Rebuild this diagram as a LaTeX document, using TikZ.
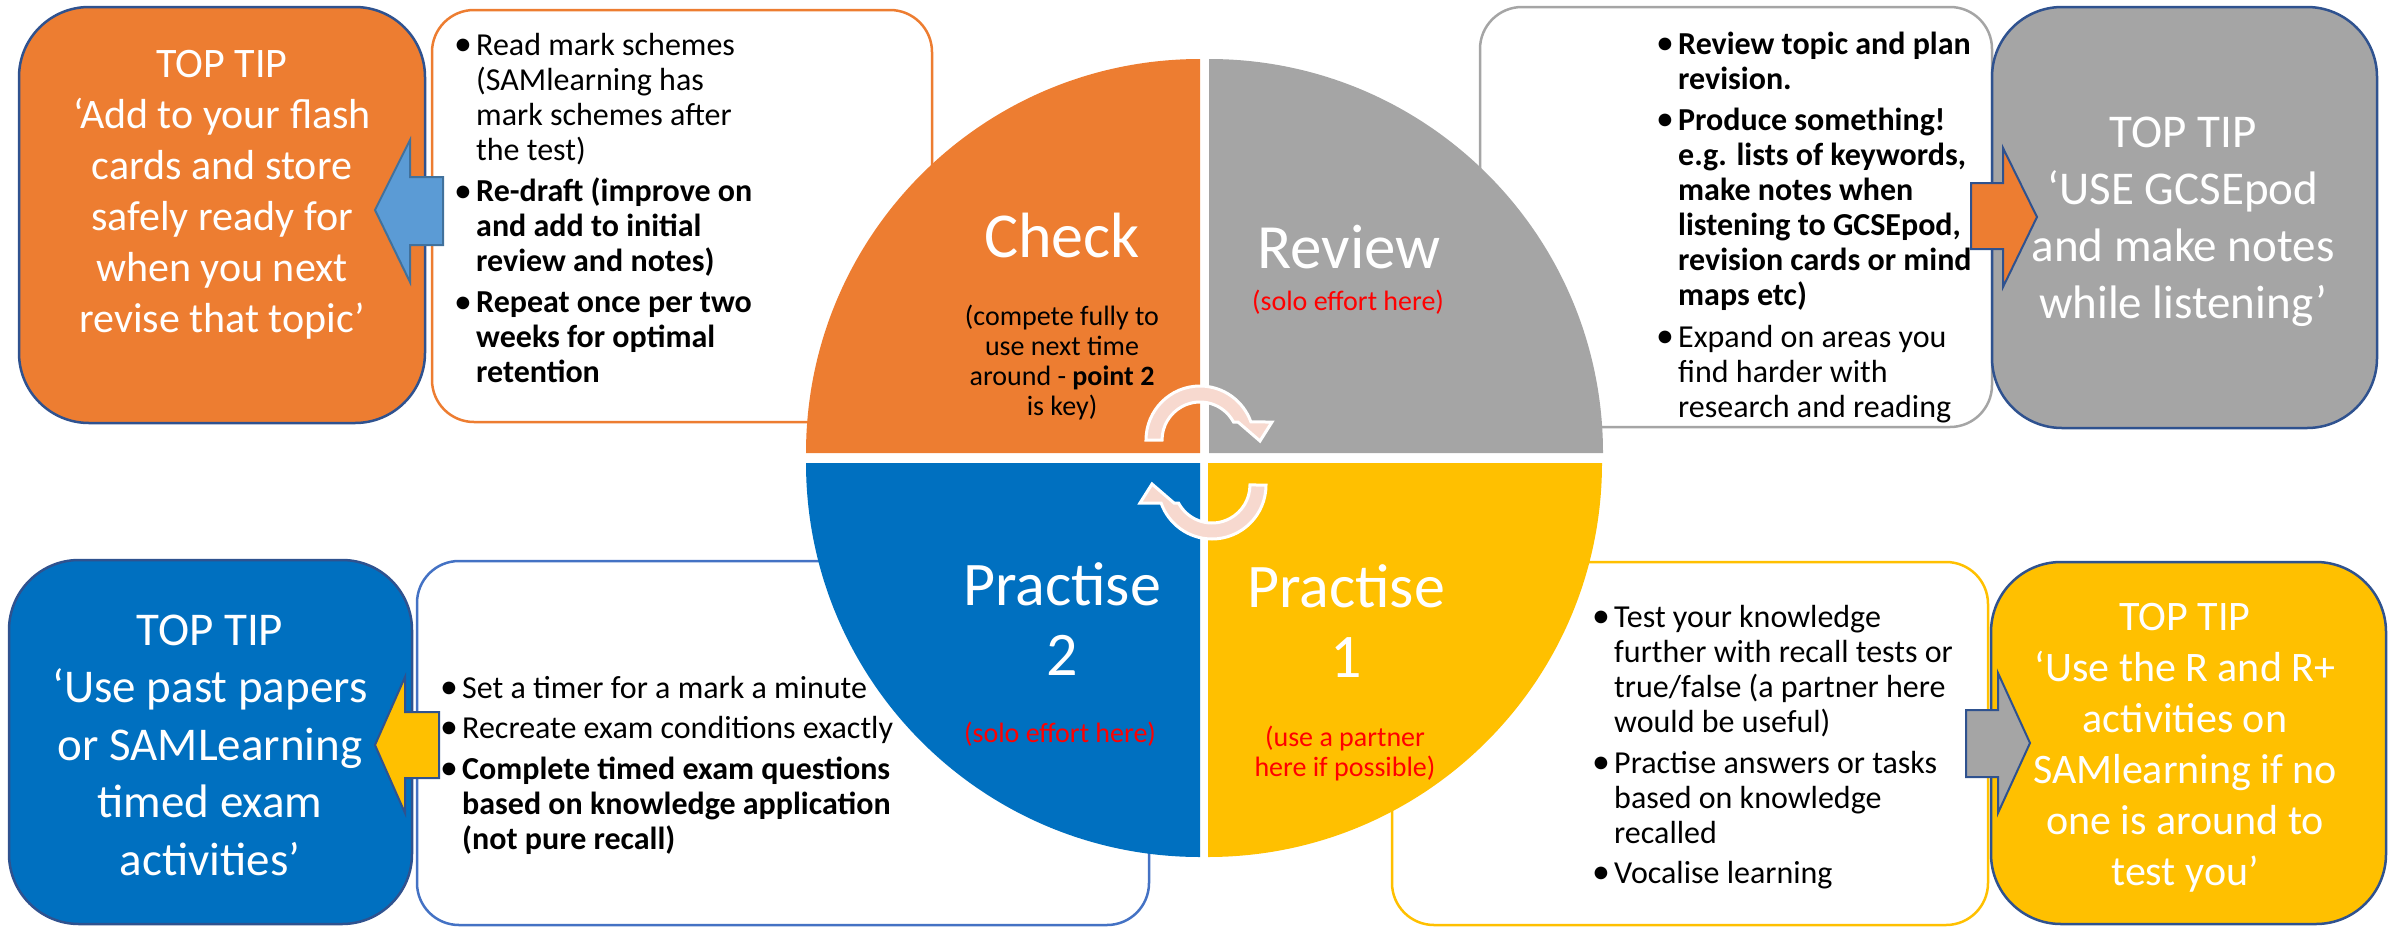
\documentclass[tikz,border=0pt]{standalone}
\usepackage{graphicx}
\usepackage{fontspec}
\setmainfont{Carlito}
\definecolor{cOrange}{HTML}{ED7D31}
\definecolor{cGray}{HTML}{A5A5A5}
\definecolor{cBlue}{HTML}{0070C0}
\definecolor{cYellow}{HTML}{FFC000}
\definecolor{cTipLine}{HTML}{2F528F}
\definecolor{cLightBlue}{HTML}{5B9BD5}
\definecolor{cLightBlueLine}{HTML}{41719C}
\definecolor{cBoxBlue}{HTML}{4472C4}
\definecolor{cPink}{HTML}{F7D9CF}
\definecolor{cRed}{HTML}{FF0000}
\newcommand\bu{\makebox[22pt][l]{\raisebox{-0.8pt}{\scalebox{1.12}{•}}}}
\begin{document}
\begin{tikzpicture}[x=1pt,y=-1pt,
  tipbox/.style={draw=cTipLine, line width=2.5pt, rounded corners=70pt, inner sep=0pt},
  txtbox/.style={fill=white, line width=2.5pt, rounded corners=42pt, inner sep=0pt},
  tiptext/.style={text=white, inner sep=0pt, anchor=base},
  bullets/.style={inner sep=0pt, anchor=base west, font=\fontsize{32}{35}\selectfont},
  blockarrow/.style={draw=cTipLine, line width=2pt, line join=miter},
  cyclearrow/.style={fill=cPink, draw=white, line width=3pt, line join=miter},
  title/.style={anchor=base, inner sep=0pt, text=white},
  subtext/.style={anchor=base, inner sep=0pt, font=\fontsize{28}{30}\selectfont},
  redtext/.style={subtext, text=cRed}]
\useasboundingbox (0,0) rectangle (2394,927);

% text boxes
\node[txtbox, draw=cOrange, minimum width=500pt, minimum height=412pt] (boxTL) at (682,216) {};
\node[txtbox, draw=cGray, minimum width=512pt, minimum height=420pt] (boxTR) at (1736,217) {};
\node[txtbox, draw=cBoxBlue, minimum width=732pt, minimum height=364pt] (boxBL) at (783,743) {};
\node[txtbox, draw=cYellow, minimum width=596pt, minimum height=363pt] (boxBR) at (1690,743.5) {};

% tip boxes
\node[tipbox, fill=cOrange, minimum width=406pt, minimum height=416pt] (tipTL) at (222,215) {};
\node[tipbox, fill=cGray, minimum width=385pt, minimum height=421pt] (tipTR) at (2184.5,217.5) {};
\node[tipbox, fill=cBlue, minimum width=403pt, minimum height=364pt] (tipBL) at (210.5,742) {};
\node[tipbox, fill=cYellow, minimum width=395pt, minimum height=362pt] (tipBR) at (2188.5,743) {};

% block arrows
\draw[blockarrow, draw=cLightBlueLine, fill=cLightBlue] (443,177) -- (410,177) -- (410,140) -- (375,210) -- (410,282) -- (410,245) -- (443,245) -- cycle;
\draw[blockarrow, fill=cOrange] (1971,183) -- (2003,183) -- (2003,148) -- (2037,217) -- (2003,287) -- (2003,249) -- (1971,249) -- cycle;
\draw[blockarrow, fill=cYellow] (439,712) -- (405,712) -- (405,677) -- (375,745) -- (405,813) -- (405,778) -- (439,778) -- cycle;
\draw[blockarrow, fill=cGray] (1966,710) -- (1998,710) -- (1998,673) -- (2030,743) -- (1998,813) -- (1998,777) -- (1966,777) -- cycle;

% tip texts
\node[tiptext, font=\fontsize{42}{51}\selectfont] (tTL) at (222,77) {\begin{tabular}[t]{@{}c@{}}TOP TIP\\‘Add to your flash\\cards and store\\safely ready for\\when you next\\revise that topic’\end{tabular}};
\node[tiptext, font=\fontsize{47}{57}\selectfont] (tTR) at (2183,147) {\begin{tabular}[t]{@{}c@{}}TOP TIP\\‘USE GCSEpod\\and make notes\\while listening’\end{tabular}};
\node[tiptext, font=\fontsize{47}{57.5}\selectfont] (tBL) at (210,645) {\begin{tabular}[t]{@{}c@{}}TOP TIP\\‘Use past papers\\or SAMLearning\\timed exam\\activities’\end{tabular}};
\node[tiptext, font=\fontsize{42}{51}\selectfont] (tBR) at (2185,630) {\begin{tabular}[t]{@{}c@{}}TOP TIP\\‘Use the R and R+\\activities on\\SAMlearning if no\\one is around to\\test you’\end{tabular}};

% bullet texts
\node[bullets] (lTL) at (454,55) {\begin{tabular}[t]{@{}l@{}l@{}}
\bu & Read mark schemes\\
 & (SAMlearning has\\
 & mark schemes after\\
 & the test)\\[6.5pt]
\bu & \textbf{Re-draft (improve on}\\
 & \textbf{and add to initial}\\
 & \textbf{review and notes)}\\[6pt]
\bu & \textbf{Repeat once per two}\\
 & \textbf{weeks for optimal}\\
 & \textbf{retention}
\end{tabular}};
\node[bullets] (lTR) at (1656,54) {\begin{tabular}[t]{@{}l@{}l@{}}
\bu & \textbf{Review topic and plan}\\
 & \textbf{revision.}\\[6pt]
\bu & \textbf{Produce something!}\\
 & \textbf{e.g. lists of keywords,}\\
 & \textbf{make notes when}\\
 & \textbf{listening to GCSEpod,}\\
 & \textbf{revision cards or mind}\\
 & \textbf{maps etc)}\\[7pt]
\bu & Expand on areas you\\
 & find harder with\\
 & research and reading
\end{tabular}};
\node[bullets] (lBL) at (440,698) {\begin{tabular}[t]{@{}l@{}l@{}}
\bu & Set a timer for a mark a minute\\[5pt]
\bu & Recreate exam conditions exactly\\[6pt]
\bu & \textbf{Complete timed exam questions}\\
 & \textbf{based on knowledge application}\\
 & \textbf{(not pure recall)}
\end{tabular}};
\node[bullets] (lBR) at (1592,627) {\begin{tabular}[t]{@{}l@{}l@{}}
\bu & Test your knowledge\\
 & further with recall tests or\\
 & true/false (a partner here\\
 & would be useful)\\[6pt]
\bu & Practise answers or tasks\\
 & based on knowledge\\
 & recalled\\[5pt]
\bu & Vocalise learning
\end{tabular}};

% circle quadrants
\fill[cOrange] (1200,453) -- (806,453) arc[start angle=180, end angle=270, radius=394] -- cycle;
\fill[cGray] (1209,453) -- (1209,59) arc[start angle=270, end angle=360, radius=394] -- cycle;
\fill[cYellow] (1208,463) -- (1602,463) arc[start angle=0, end angle=90, radius=394] -- cycle;
\fill[cBlue] (1200,463) -- (1200,857) arc[start angle=90, end angle=180, radius=394] -- cycle;

% cycle arrows
\begin{scope}[shift={(1200,440)}]
\draw[cyclearrow] (-54,0) arc[start angle=180, end angle=340.5, radius=54] -- (72,-18) -- (60,1) -- (38,-18) -- (33.5,-18) arc[start angle=331.7, end angle=180, radius=38] -- cycle;
\end{scope}
\begin{scope}[shift={(1212,485)}, rotate=180]
\draw[cyclearrow] (-54,0) arc[start angle=180, end angle=340.5, radius=54] -- (72,-18) -- (60,1) -- (38,-18) -- (33.5,-18) arc[start angle=331.7, end angle=180, radius=38] -- cycle;
\end{scope}

% quadrant texts
\node[title, font=\fontsize{64}{70}\selectfont] (check) at (1062,257) {Check};
\node[subtext] (checksub) at (1062,325) {\begin{tabular}[t]{@{}c@{}}(compete fully to\\use next time\\around - \textbf{point 2}\\is key)\end{tabular}};
\node[title, font=\fontsize{63}{70}\selectfont] (review) at (1349,268) {Review};
\node[redtext] (reviewsub) at (1348,310) {(solo effort here)};
\node[title, font=\fontsize{62}{70}\selectfont] (p2) at (1062,605) {\begin{tabular}[t]{@{}c@{}}Practise\\2\end{tabular}};
\node[redtext] (p2sub) at (1060,742) {(solo effort here)};
\node[title, font=\fontsize{62}{70}\selectfont] (p1) at (1346,607) {\begin{tabular}[t]{@{}c@{}}Practise\\1\end{tabular}};
\node[redtext] (p1sub) at (1345,746) {\begin{tabular}[t]{@{}c@{}}(use a partner\\here if possible)\end{tabular}};
\end{tikzpicture}
\end{document}
